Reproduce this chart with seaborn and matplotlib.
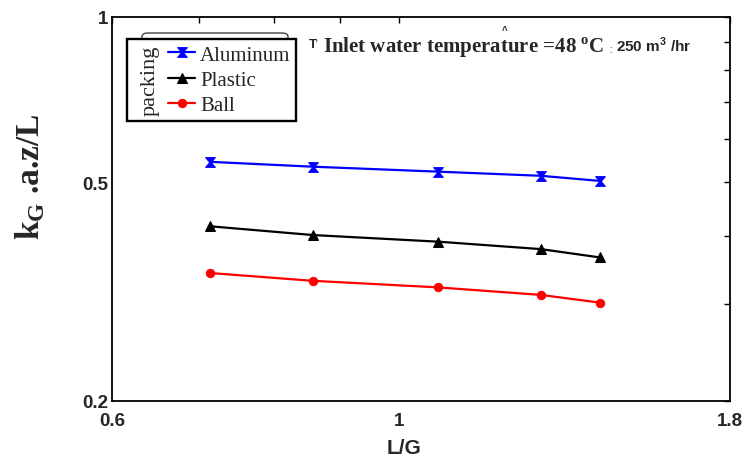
import numpy as np
import pandas as pd
import matplotlib
matplotlib.use("Agg")
import matplotlib.pyplot as plt
from matplotlib.path import Path
from matplotlib.patches import Rectangle, FancyBboxPatch
from matplotlib.ticker import FixedLocator, NullFormatter, FixedFormatter
import seaborn as sns

# L/G ratios and the measured k_G.a.z/L for each packing type
lg = [0.714, 0.857, 1.071, 1.286, 1.429]
aluminum = [0.545, 0.534, 0.523, 0.514, 0.503]
plastic = [0.416, 0.401, 0.390, 0.378, 0.365]
ball = [0.342, 0.331, 0.322, 0.312, 0.302]

packings = ["Aluminum", "Plastic", "Ball"]
colors = ["#0000ff", "#000000", "#ff0000"]

x_major = [0.6, 1.0, 1.8]
x_major_labels = ["0.6", "1", "1.8"]
x_minor = [0.7, 0.8, 0.9]
y_major = [0.2, 0.5, 1.0]
y_major_labels = ["0.2", "0.5", "1"]
y_minor = [0.3, 0.4, 0.6, 0.7, 0.8, 0.9]

df = pd.DataFrame({
    "L/G": lg * 3,
    "value": aluminum + plastic + ball,
    "packing": [p for p in packings for _ in lg],
})

sns.set_style("white")
plt.rcParams["font.family"] = ["Liberation Sans", "DejaVu Sans"]
plt.rcParams["mathtext.fontset"] = "custom"
plt.rcParams["mathtext.rm"] = "Liberation Serif"

W, H = 746, 464
fig = plt.figure(figsize=(W / 100, H / 100), dpi=100)
L, R, T, B = 112, 730, 18, 402
ax = fig.add_axes([L / W, 1 - B / H, (R - L) / W, (B - T) / H])

hourglass = Path([(-1, 1), (1, 1), (0.15, 0), (1, -1), (-1, -1), (-0.15, 0), (-1, 1)],
                 [Path.MOVETO] + [Path.LINETO] * 5 + [Path.CLOSEPOLY])
markers = [hourglass, "^", "o"]
msizes = [7, 7, 6]

for name, col, mk, ms in zip(packings, colors, markers, msizes):
    sub = df[df["packing"] == name]
    sns.lineplot(data=sub, x="L/G", y="value", ax=ax, color=col, marker=mk,
                 markersize=ms, markeredgecolor=col, markerfacecolor=col,
                 linewidth=1.6, label=name, legend=False)

ax.set_xscale("log")
ax.set_yscale("log")
ax.set_xlim(0.6, 1.8)
ax.set_ylim(0.2, 1.0)

ax.xaxis.set_major_locator(FixedLocator(x_major))
ax.xaxis.set_major_formatter(FixedFormatter(x_major_labels))
ax.xaxis.set_minor_locator(FixedLocator(x_minor))
ax.xaxis.set_minor_formatter(NullFormatter())
ax.yaxis.set_major_locator(FixedLocator(y_major))
ax.yaxis.set_major_formatter(FixedFormatter(y_major_labels))
ax.yaxis.set_minor_locator(FixedLocator(y_minor))
ax.yaxis.set_minor_formatter(NullFormatter())

ax.tick_params(which="both", direction="in", top=True, right=True,
               length=4.5, width=1.0, color="black")
ax.tick_params(which="major", labelsize=13.5)
ax.tick_params(axis="x", which="major", pad=8)
ax.tick_params(axis="y", which="major", pad=3)
for lab in ax.get_xticklabels() + ax.get_yticklabels():
    lab.set_fontweight("bold")
for s in ax.spines.values():
    s.set_linewidth(1.3)
    s.set_color("black")
ax.set_xlabel("")
ax.set_ylabel("")

# axis titles
fig.text(404 / W, 1 - 449 / H, "L/G", ha="center", va="center",
         fontsize=15, fontweight="bold")
fig.text(30 / W, 1 - 177 / H, r"k$_\mathregular{G}$ .a.z/L", ha="center", va="center",
         rotation=90, fontsize=24, fontweight="bold", family="Liberation Serif")

# legend frame with bracket and vertical title
bracket = FancyBboxPatch((142 / W, 1 - 50 / H), 146 / W, 16 / H,
                         boxstyle="round,pad=0,rounding_size=0.008",
                         transform=fig.transFigure, facecolor="white",
                         edgecolor="#444444", linewidth=1.0, zorder=5)
fig.patches.append(bracket)
frame = Rectangle((127 / W, 1 - 122 / H), 169 / W, 82 / H, transform=fig.transFigure,
                  facecolor="white", edgecolor="black", linewidth=1.7, zorder=6)
fig.patches.append(frame)
fig.text(150 / W, 1 - 81 / H, "packing", rotation=90, ha="center", va="center",
         fontsize=16, family="Liberation Serif", zorder=7)
handles, labels = ax.get_legend_handles_labels()
leg = fig.legend(handles, labels, loc="upper left",
                 bbox_to_anchor=(168 / W, 1 - 46 / H), bbox_transform=fig.transFigure,
                 frameon=False, borderpad=0, borderaxespad=0, handlelength=1.3,
                 handletextpad=0.25, labelspacing=0.28,
                 prop={"family": "Liberation Serif", "size": 15})
leg.set_zorder(8)

# condition annotations
fig.text(309 / W, 1 - 45 / H, "T", fontsize=9.5, fontweight="bold", va="center")
fig.text(316 / W, 1 - 45 / H, "'", fontsize=7, va="center")
fig.text(323 / W, 1 - 53 / H, r"Inlet water temperature =48 $^\mathregular{o}$C",
         fontsize=15, fontweight="bold", family="Liberation Serif", va="baseline")
fig.text(609 / W, 1 - 50 / H, ":", fontsize=7, va="center")
fig.text(616 / W, 1 - 52 / H, r"250 m$^\mathregular{3}$ /hr", fontsize=11,
         fontweight="bold", va="baseline")
fig.text(505 / W, 1 - 31 / H, "^", fontsize=7, fontweight="bold", va="center", ha="center")

fig.savefig("out.png", dpi=100)
